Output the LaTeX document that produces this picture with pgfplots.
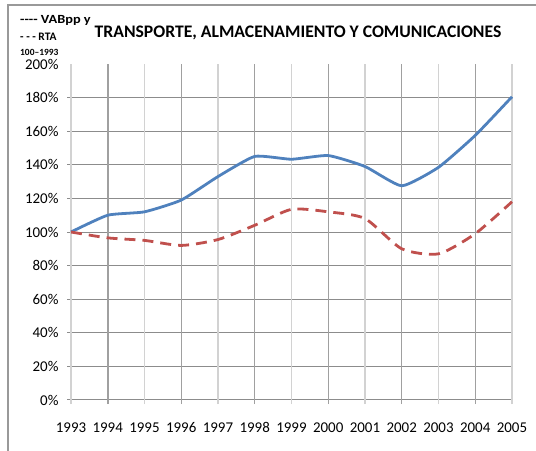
\documentclass[border=0pt]{standalone}
\usepackage{pgfplots}
\pgfplotsset{compat=1.18}
\usepackage{fontspec}
\setmainfont{Carlito}
\newfontfamily\widefont[FakeStretch=1.15]{Carlito}
\definecolor{blueline}{RGB}{79,129,189}
\definecolor{redline}{RGB}{192,80,77}
\definecolor{gridc}{RGB}{140,140,140}
\definecolor{gridd}{RGB}{160,160,160}
\definecolor{gridl}{RGB}{210,210,210}
\begin{document}
\begin{tikzpicture}
\path[use as bounding box] (0bp,0bp) rectangle (536bp,451bp);
\draw[gray!80, line width=1.5bp] (8bp,0bp) -- (8bp,446bp) -- (536bp,446bp);
\node[anchor=west, inner sep=0pt, font=\widefont\fontsize{12.5}{13}\selectfont\bfseries] at (20bp,431bp) {{-}{-}{-}{-} VABpp y};
\node[anchor=west, inner sep=0pt, font=\fontsize{11.5}{12}\selectfont\bfseries] at (20bp,414bp) {{-} {-} {-} RTA};
\node[anchor=west, inner sep=0pt, font=\fontsize{9.5}{10}\selectfont\bfseries] at (20bp,399bp) {100--1993};
\node[font=\fontsize{17.7}{20}\selectfont\bfseries] at (298bp,418bp) {TRANSPORTE, ALMACENAMIENTO Y COMUNICACIONES};
\begin{axis}[
  at={(71bp,51bp)}, anchor=south west,
  scale only axis, width=441bp, height=336bp,
  xmin=1993, xmax=2005, ymin=0, ymax=200,
  xtick={1993,...,2005}, ytick={0,20,...,200},
  xticklabel style={/pgf/number format/1000 sep={}},
  /pgf/number format/assume math mode=true,
  yticklabel={\pgfmathprintnumber{\tick}\%},
  ticklabel style={font=\fontsize{15}{17}\selectfont},
  xticklabel style={yshift=-19bp},
  yticklabel style={xshift=-9bp},
  axis x line*=bottom, axis y line*=left,
  axis line style={draw=none},
  tick style={draw=none},
  clip=false,
]
% horizontal grid
\foreach \yy in {20,40,...,180} {
  \edef\tmp{\noexpand\addplot[draw=gridc, line width=0.9bp, forget plot] coordinates {(1992.9,\yy) (2005,\yy)};}
  \tmp
}
\addplot[draw=gridc, line width=1bp, forget plot] coordinates {(1992.9,0) (2005,0)};
% vertical grid (light odd years)
\foreach \xx in {1993,1995,...,2005} {
  \edef\tmp{\noexpand\addplot[draw=gridl, line width=1.6bp, forget plot] coordinates {(\xx,-2.5) (\xx,200)};}
  \tmp
}
\foreach \xx in {1996,1998,...,2004} {
  \edef\tmp{\noexpand\addplot[draw=gridd, line width=0.8bp, forget plot] coordinates {(\xx,-2.5) (\xx,200)};}
  \tmp
}
\addplot[draw=gridd, line width=1.6bp, forget plot] coordinates {(1994,-2.5) (1994,200)};
\addplot[blueline, line width=2.8bp, smooth, tension=0.3] coordinates {
(1993,100) (1994,110) (1995,112) (1996,119) (1997,133) (1998,145) (1999,143.3) (2000,145.5) (2001,139) (2002,127.5) (2003,138.5) (2004,157.5) (2005,180.5)};
\addplot[redline, line width=2.8bp, dash pattern=on 11bp off 7bp, smooth, tension=0.4] coordinates {
(1993,100) (1994,96.5) (1995,95) (1996,92) (1997,95.5) (1998,104) (1999,113.5) (2000,112) (2001,108) (2002,90) (2003,87) (2004,99) (2005,118)};
\end{axis}
\end{tikzpicture}
\end{document}
